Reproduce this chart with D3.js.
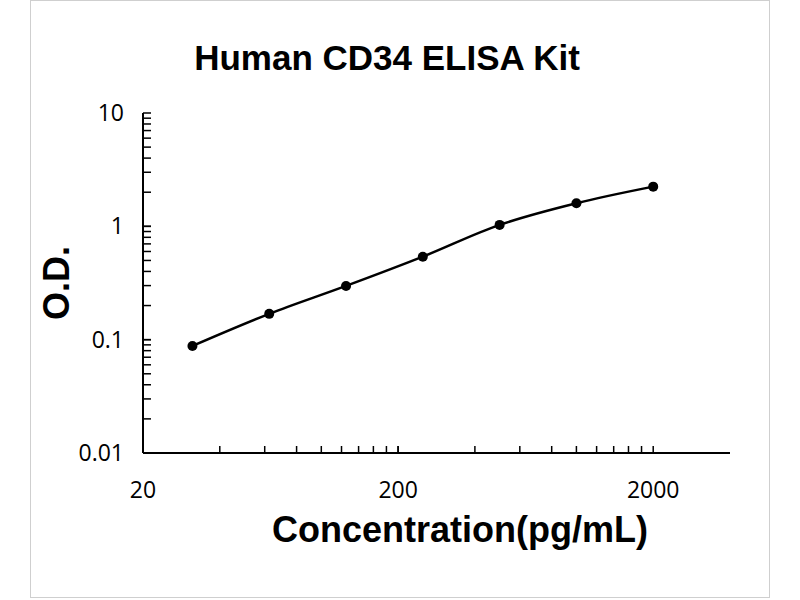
<!DOCTYPE html>
<html>
<head>
<meta charset="utf-8">
<script src="https://cdn.jsdelivr.net/npm/d3@7"></script>
<style>
  body { margin: 0; background: #fff; }
  svg { display: block; }
</style>
</head>
<body>
<div id="chart"></div>
<script>
// standard curve data
const concentration = [31.25, 62.5, 125, 250, 500, 1000, 2000];
const od = [0.088, 0.169, 0.298, 0.54, 1.03, 1.6, 2.24];
const xTickLabels = [20, 200, 2000];
const yTickLabels = [0.01, 0.1, 1, 10];

const width = 800;
const height = 600;

const svg = d3.select("#chart").append("svg")
    .attr("width", width)
    .attr("height", height);

// frame round the picture
svg.append("rect")
    .attr("x", 30.5).attr("y", 0.5)
    .attr("width", 739).attr("height", 597)
    .attr("fill", "#fff")
    .attr("stroke", "#cfcfcf");

const x = d3.scaleLog().domain([20, 4000]).range([143, 730]);
const y = d3.scaleLog().domain([0.01, 10]).range([453, 113]);

// minor ticks: multiples of the decade start
const xMinor = [];
[20, 200].forEach(d => { for (let k = 1; k <= 10; k++) xMinor.push(d * k); });
const yMinor = [];
[0.01, 0.1, 1].forEach(d => { for (let k = 1; k <= 10; k++) yMinor.push(+(d * k).toPrecision(3)); });

const axisColor = "#000";
const tickFont = "'Open Sans', 'Liberation Sans', sans-serif";
const boldFont = "'Liberation Sans', Arial, sans-serif";

// x axis
svg.append("line")
    .attr("x1", x(20)).attr("x2", x(4000))
    .attr("y1", y(0.01)).attr("y2", y(0.01))
    .attr("stroke", axisColor).attr("stroke-width", 2);
svg.selectAll(".xtick")
    .data(xMinor)
    .enter().append("line")
    .attr("class", "xtick")
    .attr("x1", d => x(d)).attr("x2", d => x(d))
    .attr("y1", y(0.01)).attr("y2", y(0.01) - 7)
    .attr("stroke", axisColor).attr("stroke-width", 1.5);
svg.selectAll(".xlab")
    .data(xTickLabels)
    .enter().append("text")
    .attr("class", "xlab")
    .attr("x", d => x(d))
    .attr("y", 498)
    .attr("text-anchor", "middle")
    .style("font-family", tickFont)
    .style("font-size", "23px")
    .text(d => d);

// y axis
svg.append("line")
    .attr("x1", x(20)).attr("x2", x(20))
    .attr("y1", y(0.01)).attr("y2", y(10))
    .attr("stroke", axisColor).attr("stroke-width", 2);
svg.selectAll(".ytick")
    .data(yMinor)
    .enter().append("line")
    .attr("class", "ytick")
    .attr("x1", x(20)).attr("x2", x(20) + 8)
    .attr("y1", d => y(d)).attr("y2", d => y(d))
    .attr("stroke", axisColor).attr("stroke-width", 1.5);
svg.selectAll(".ylab")
    .data(yTickLabels)
    .enter().append("text")
    .attr("class", "ylab")
    .attr("x", 124)
    .attr("y", d => y(d))
    .attr("dy", "0.35em")
    .attr("text-anchor", "end")
    .style("font-family", tickFont)
    .style("font-size", "23px")
    .text(d => d);

// curve
const pts = concentration.map((c, i) => [c, od[i]]);
const line = d3.line()
    .x(d => x(d[0]))
    .y(d => y(d[1]))
    .curve(d3.curveCatmullRom);

svg.append("path")
    .datum(pts)
    .attr("d", line)
    .attr("fill", "none")
    .attr("stroke", "#000")
    .attr("stroke-width", 2.5);

svg.selectAll(".dot")
    .data(pts)
    .enter().append("circle")
    .attr("class", "dot")
    .attr("cx", d => x(d[0]))
    .attr("cy", d => y(d[1]))
    .attr("r", 5)
    .attr("fill", "#000");

// titles
svg.append("text")
    .attr("x", 387).attr("y", 70)
    .attr("text-anchor", "middle")
    .style("font-family", boldFont)
    .style("font-weight", "bold")
    .style("font-size", "35px")
    .text("Human CD34 ELISA Kit");

svg.append("text")
    .attr("x", 460).attr("y", 542)
    .attr("text-anchor", "middle")
    .style("font-family", boldFont)
    .style("font-weight", "bold")
    .style("font-size", "36px")
    .text("Concentration(pg/mL)");

svg.append("text")
    .attr("transform", "translate(69,283) rotate(-90)")
    .attr("text-anchor", "middle")
    .style("font-family", boldFont)
    .style("font-weight", "bold")
    .style("font-size", "36px")
    .text("O.D.");
</script>
</body>
</html>
